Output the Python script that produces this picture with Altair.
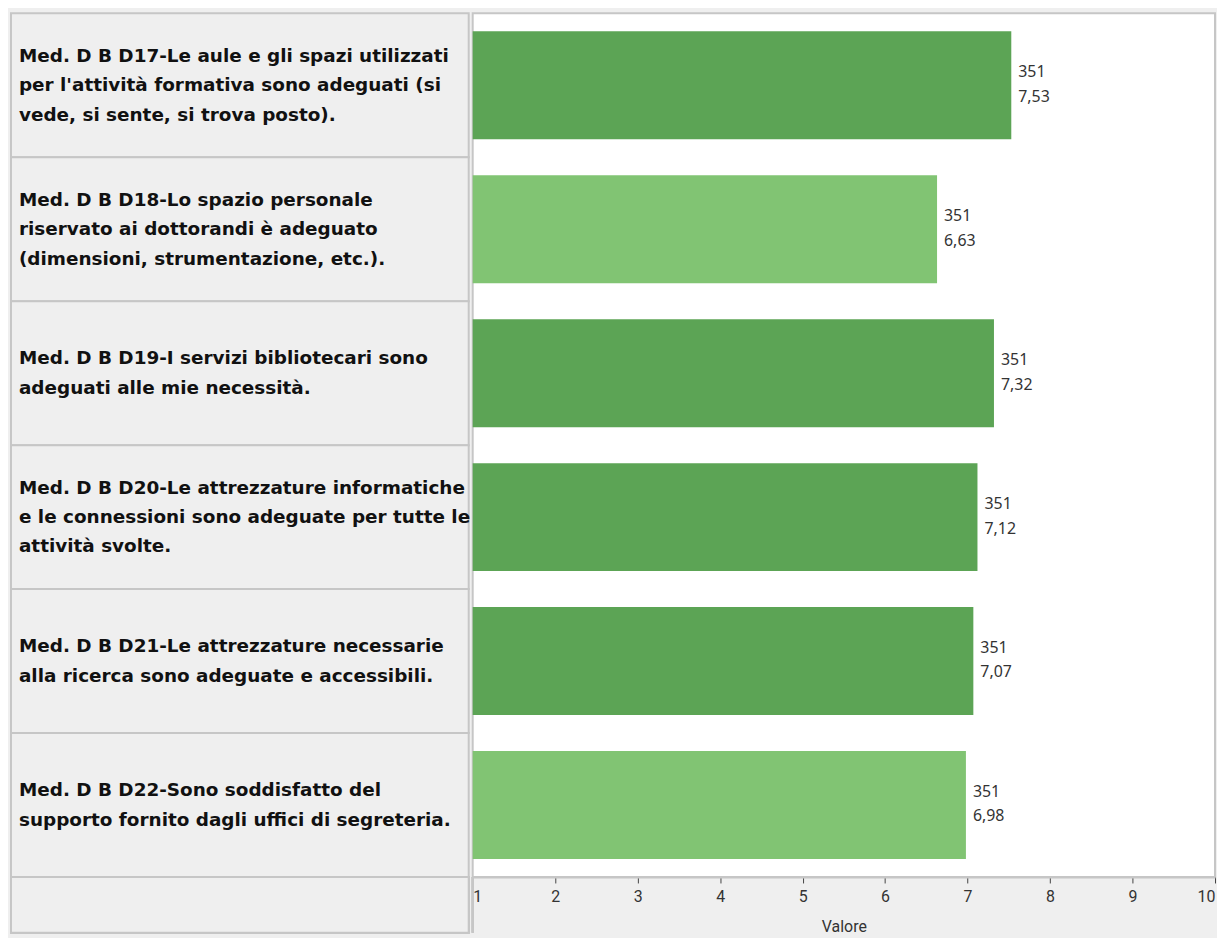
import altair as alt
import pandas as pd

codes = ["D17", "D18", "D19", "D20", "D21", "D22"]
labels = [
    "Med. D B D17-Le aule e gli spazi utilizzati\nper l'attività formativa sono adeguati (si\nvede, si sente, si trova posto).",
    "Med. D B D18-Lo spazio personale\nriservato ai dottorandi è adeguato\n(dimensioni, strumentazione, etc.).",
    "Med. D B D19-I servizi bibliotecari sono\nadeguati alle mie necessità.",
    "Med. D B D20-Le attrezzature informatiche\ne le connessioni sono adeguate per tutte le\nattività svolte.",
    "Med. D B D21-Le attrezzature necessarie\nalla ricerca sono adeguate e accessibili.",
    "Med. D B D22-Sono soddisfatto del\nsupporto fornito dagli uffici di segreteria.",
]
values = [7.53, 6.63, 7.32, 7.12, 7.07, 6.98]
counts = [351, 351, 351, 351, 351, 351]
x_ticks = [1, 2, 3, 4, 5, 6, 7, 8, 9, 10]

df = pd.DataFrame({"code": codes, "label": labels, "value": values, "n": counts})

DARK = "#5ca455"
LIGHT = "#81c473"
BORDER = "#c6c6c6"
PANEL = "#efefef"

H = 868
LW = 460
RW = 746
LH = 29.5
BOT = 56

y_left = alt.Y("code:N", sort=codes, axis=None,
               scale=alt.Scale(paddingInner=0, paddingOuter=0))

left_rect = alt.Chart(df).mark_rect(fill=PANEL, stroke=BORDER, strokeWidth=2).encode(
    y=y_left, x=alt.value(0), x2=alt.value(LW)
)


def label_layer(nlines):
    return alt.Chart(df).transform_calculate(
        nl="length(split(datum.label, '\\n'))"
    ).transform_filter(alt.datum.nl == nlines).mark_text(
        align="left", baseline="middle", lineBreak="\n", font="DejaVu Sans",
        fontWeight="bold", fontSize=18.5, lineHeight=LH, color="#111111",
        dy=-(nlines - 1) * LH / 2,
    ).encode(y=y_left, x=alt.value(8), text="label:N")


left_bottom = alt.Chart(df).mark_rect(fill=PANEL, stroke=BORDER, strokeWidth=2).encode(
    x=alt.value(0), x2=alt.value(LW), y=alt.value(H), y2=alt.value(H + BOT)
)

left = alt.layer(left_rect, label_layer(2), label_layer(3), left_bottom).properties(
    width=LW, height=H, view=alt.ViewBackground(fill=PANEL, stroke=None)
)

y_right = alt.Y("code:N", sort=codes, axis=None,
                scale=alt.Scale(paddingInner=0.25, paddingOuter=0.125))
x_right = alt.X(
    "value:Q",
    scale=alt.Scale(domain=[1, 10], nice=False, zero=False),
    axis=alt.Axis(
        values=x_ticks, format="d", title="Valore", grid=False, labelFlush=True,
        domainColor=BORDER, domainWidth=2, tickColor="#444444", tickSize=6,
        tickWidth=1, labelFont="Roboto", labelFontSize=16, labelColor="#333333",
        labelPadding=6, titleFont="Roboto", titleFontSize=16,
        titleFontWeight="normal", titleColor="#333333", titlePadding=14,
    ),
)

bars = alt.Chart(df).transform_calculate(start="1").mark_bar().encode(
    y=y_right,
    x=x_right,
    x2="start:Q",
    color=alt.condition(alt.datum.value >= 7, alt.value(DARK), alt.value(LIGHT)),
)
bar_text = alt.Chart(df).transform_calculate(
    txt="datum.n + '\\n' + replace(format(datum.value, '.2f'), '.', ',')"
).mark_text(
    align="left", baseline="middle", dx=7, dy=-13, lineBreak="\n",
    font="Noto Sans", fontSize=16, lineHeight=24.5, color="#333333"
).encode(y=y_right, x="value:Q", text="txt:N")
sep = alt.Chart(df).mark_rule(color=BORDER, strokeWidth=2).encode(
    x=alt.value(0), y=alt.value(H), y2=alt.value(H + BOT)
)

right = alt.layer(bars, bar_text, sep).properties(
    width=RW, height=H, view=alt.ViewBackground(fill="white", stroke=BORDER, strokeWidth=2)
)

chart = alt.hconcat(left, right, spacing=0).resolve_scale(y="independent").properties(
    padding={"left": 2, "top": 2, "right": 0, "bottom": 0},
    background=PANEL,
)

chart.save("out.html", embed_options={"renderer": "svg", "actions": False})
